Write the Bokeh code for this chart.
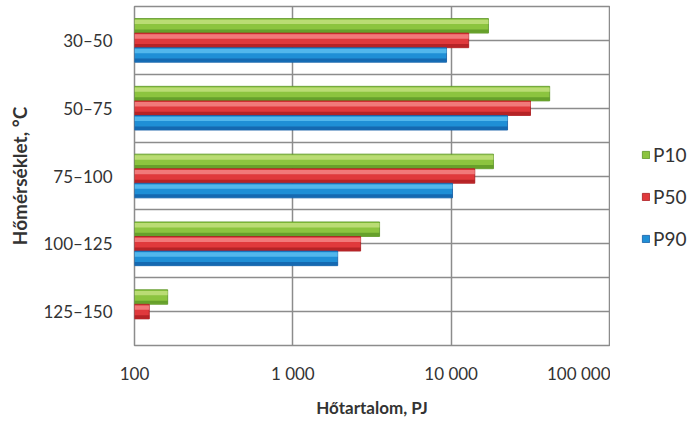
from bokeh.plotting import figure
from bokeh.models import FixedTicker, Legend, LegendItem, Range1d
from bokeh.layouts import row
from bokeh.embed import file_html
from bokeh.resources import INLINE

categories = ["30–50", "50–75", "75–100", "100–125", "125–150"]
p10 = [17200, 41900, 18500, 3530, 162]
p50 = [12900, 31700, 14100, 2680, 124]
p90 = [9350, 22700, 10200, 1920, None]
series_names = ["P10", "P50", "P90"]
x_ticks = [100, 1000, 10000, 100000]
x_tick_labels = ["100", "1 000", "10 000", "100 000"]

FONT = "Lato"
n = len(categories)
ypos = [n - i for i in range(n)]  # top category highest

p = figure(width=610, height=420, x_axis_type="log", output_backend="svg",
           toolbar_location=None, min_border_left=134, min_border_right=1,
           min_border_top=6, min_border_bottom=68,
           x_range=Range1d(100, 100000), y_range=Range1d(0.5, n + 0.5))
p.outline_line_color = "#8c8c8c"
p.outline_line_width = 1.5
p.background_fill_color = "white"

# colours: (light top, mid, dark bottom)
colors = {
    "P10": ("#c2e07e", "#8cc43f", "#5a9426"),
    "P50": ("#f38585", "#e0393c", "#a81c1f"),
    "P90": ("#5cbef0", "#1f8fd6", "#135ca4"),
}
bh = 0.215
offsets = {"P10": bh, "P50": 0.0, "P90": -bh}
vals = {"P10": p10, "P50": p50, "P90": p90}

# legend panel (separate narrow figure to the right of the chart)
lg = figure(width=80, height=420, output_backend="svg", toolbar_location=None,
            x_axis_location=None, y_axis_location=None, min_border=0,
            x_range=Range1d(0, 1), y_range=Range1d(0, 1))
lg.outline_line_color = None
lg.grid.visible = False

legend_items = []
for name in series_names:
    light, mid, dark = colors[name]
    ys, xs = [], []
    for y, v in zip(ypos, vals[name]):
        if v is None:
            continue
        ys.append(y + offsets[name])
        xs.append(v)
    p.hbar(y=ys, left=100, right=xs, height=bh, fill_color=mid,
           line_color=dark, line_width=0.8)
    p.hbar(y=[yy + bh * 0.27 for yy in ys], left=100, right=xs, height=bh * 0.3,
           fill_color=light, line_color=None, fill_alpha=0.85)
    p.hbar(y=[yy - bh * 0.36 for yy in ys], left=100, right=xs, height=bh * 0.22,
           fill_color=dark, line_color=None, fill_alpha=0.75)
    # key glyph for the legend, placed outside the legend panel's visible range
    key = lg.hbar(y=[5], left=[5], right=[6], height=0.1, fill_color=mid,
                  line_color=dark, line_width=0.8)
    legend_items.append(LegendItem(label=name, renderers=[key]))

# axes
p.xaxis.ticker = FixedTicker(ticks=x_ticks)
p.xaxis.major_label_overrides = {t: l for t, l in zip(x_ticks, x_tick_labels)}
p.yaxis.ticker = FixedTicker(ticks=ypos, minor_ticks=[k + 0.5 for k in range(0, n + 1)])
p.yaxis.major_label_overrides = {y: c for y, c in zip(ypos, categories)}
for ax in (p.xaxis[0], p.yaxis[0]):
    ax.axis_line_color = None
    ax.major_tick_line_color = None
    ax.minor_tick_line_color = None
    ax.major_tick_out = 0
    ax.major_tick_in = 0
    ax.minor_tick_out = 0
    ax.minor_tick_in = 0
    ax.major_label_text_font = FONT
    ax.major_label_text_font_size = "17px"
    ax.major_label_text_color = "#333333"
    ax.axis_label_text_font = FONT
    ax.axis_label_text_font_style = "bold"
    ax.axis_label_text_font_size = "17px"
    ax.axis_label_text_color = "#333333"
p.yaxis.axis_label_text_font_size = "19px"
p.xaxis.axis_label = "Hőtartalom, PJ"
p.yaxis.axis_label = "Hőmérséklet, °C"
p.xaxis.major_label_standoff = 17
p.xaxis.axis_label_standoff = 10
p.yaxis.major_label_standoff = 22
p.yaxis.axis_label_standoff = 9

p.xgrid.grid_line_color = "#8c8c8c"
p.xgrid.grid_line_width = 1.5
p.xgrid.ticker = FixedTicker(ticks=x_ticks)
p.ygrid.grid_line_color = "#8c8c8c"
p.ygrid.grid_line_width = 1.5
p.ygrid.minor_grid_line_color = "#8c8c8c"
p.ygrid.minor_grid_line_width = 1.5

legend = Legend(items=legend_items, location=(31, 95), orientation="vertical",
                label_text_font=FONT, label_text_font_size="19px",
                label_text_color="#333333", glyph_width=9, glyph_height=9,
                spacing=19, padding=0, margin=0, label_standoff=3,
                border_line_color=None, background_fill_alpha=0)
lg.add_layout(legend, "center")

layout = row(p, lg, spacing=0)
open("out.html", "w").write(file_html(layout, INLINE))
